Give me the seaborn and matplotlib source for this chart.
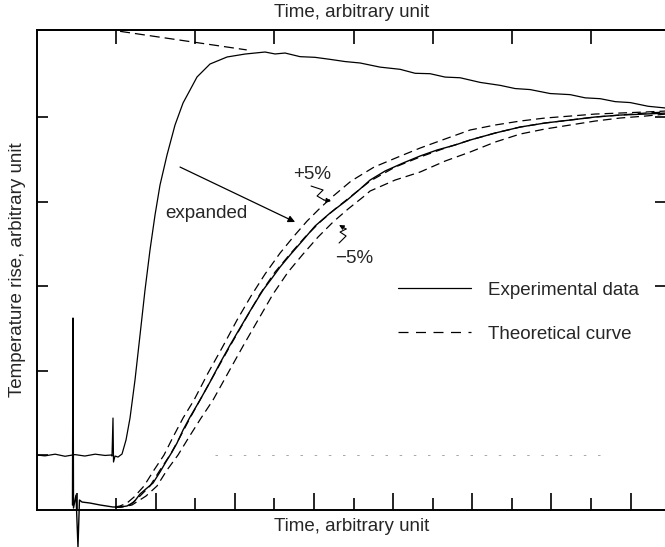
import matplotlib
matplotlib.use("Agg")
import matplotlib.pyplot as plt
import seaborn as sns
from matplotlib.lines import Line2D

# ---------------- data (arbitrary units) ----------------
# upper (unexpanded) experimental trace
upper_t = [0.00, 0.20, 0.46, 0.71, 0.96, 1.21, 1.47, 1.72, 1.87, 1.896, 1.921, 1.934,
           1.972, 2.048, 2.149, 2.250, 2.351, 2.477, 2.604, 2.730, 2.856, 2.983, 3.109,
           3.286, 3.488, 3.691, 3.868, 4.044, 4.373, 4.803, 5.258, 5.763, 6.016, 6.269,
           6.648, 7.027, 7.406, 7.785, 8.165, 8.670, 9.176, 9.555, 9.934, 10.313,
           10.693, 11.198, 11.704, 12.083, 12.462, 12.967, 13.473, 13.852, 14.232,
           14.611, 14.990, 15.445, 15.900]
upper_v = [0.00, -0.01, 0.01, -0.015, 0.005, -0.012, 0.01, -0.005, 0.0, -0.012, 0.438,
           -0.083, -0.012, -0.024, 0.012, 0.178, 0.438, 0.889, 1.422, 1.955, 2.429,
           2.844, 3.199, 3.555, 3.910, 4.171, 4.325, 4.479, 4.633, 4.716, 4.751, 4.775,
           4.752, 4.763, 4.720, 4.712, 4.688, 4.662, 4.645, 4.596, 4.570, 4.523, 4.518,
           4.478, 4.470, 4.415, 4.380, 4.342, 4.330, 4.283, 4.270, 4.232, 4.222, 4.187,
           4.176, 4.132, 4.111]

# heat-loss extrapolation (dashed, top)
extrap_t = [2.10, 5.30]
extrap_v = [5.02, 4.80]

# lower (expanded) experimental trace
low_t = [0.897, 0.910, 0.923, 0.986, 1.036, 1.074, 1.138, 1.340, 1.593, 1.921, 2.098,
         2.275, 2.452, 2.604, 2.781, 2.932, 3.109, 3.286, 3.413, 3.539, 3.691, 3.868,
         4.120, 4.373, 4.626, 4.879, 5.056, 5.384, 5.713, 5.940, 6.142, 6.395, 6.724,
         7.027, 7.406, 7.836, 8.165, 8.418, 8.797, 9.252, 9.682, 10.111, 10.566,
         10.945, 11.577, 12.209, 12.841, 13.473, 14.105, 14.737, 15.369, 15.900]
low_v = [-0.592, 1.623, -0.628, -0.474, -1.09, -0.533, -0.557, -0.569, -0.592, -0.616,
         -0.616, -0.604, -0.557, -0.462, -0.391, -0.332, -0.201, -0.059, 0.036, 0.142,
         0.296, 0.450, 0.652, 0.865, 1.090, 1.303, 1.445, 1.706, 1.955, 2.097, 2.227,
         2.370, 2.547, 2.713, 2.867, 3.021, 3.152, 3.258, 3.365, 3.460, 3.543, 3.614,
         3.673, 3.732, 3.815, 3.886, 3.934, 3.969, 4.005, 4.028, 4.040, 4.052]

# theoretical curves
theo_t = [1.972, 2.098, 2.351, 2.604, 2.856, 3.109, 3.362, 3.615, 3.868, 4.120, 4.499,
          4.879, 5.258, 5.637, 6.016, 6.395, 6.775, 7.154, 7.533, 7.912, 8.418, 9.050,
          9.681, 10.313, 10.945, 11.577, 12.209, 12.841, 13.473, 14.105, 14.737,
          15.369, 15.900]
theo_v = [-0.616, -0.616, -0.592, -0.486, -0.367, -0.178, 0.0, 0.213, 0.438, 0.652,
          0.972, 1.291, 1.600, 1.908, 2.168, 2.381, 2.583, 2.761, 2.915, 3.057, 3.246,
          3.412, 3.531, 3.637, 3.732, 3.815, 3.886, 3.934, 3.969, 4.005, 4.028, 4.052,
          4.064]

plus_t = [1.972, 2.098, 2.275, 2.452, 2.705, 2.958, 3.210, 3.438, 3.691, 3.969, 4.323,
          4.702, 5.056, 5.409, 5.763, 6.143, 6.496, 6.825, 7.154, 7.457, 7.937, 8.519,
          9.126, 9.681, 10.238, 10.945, 11.577, 12.209, 12.841, 13.473, 14.105,
          14.737, 15.369, 15.900]
plus_v = [-0.616, -0.604, -0.569, -0.498, -0.367, -0.178, 0.0, 0.213, 0.438, 0.652,
          0.972, 1.291, 1.600, 1.884, 2.144, 2.393, 2.595, 2.772, 2.926, 3.057, 3.246,
          3.412, 3.531, 3.637, 3.732, 3.851, 3.910, 3.957, 3.993, 4.016, 4.040, 4.052,
          4.064, 4.076]

minus_t = [1.972, 2.149, 2.401, 2.755, 3.033, 3.286, 3.564, 3.842, 4.146, 4.449, 4.828,
           5.207, 5.586, 5.966, 6.345, 6.724, 7.103, 7.482, 7.861, 8.241, 8.418, 9.050,
           9.681, 10.313, 10.945, 11.577, 12.209, 12.841, 13.473, 14.105, 14.737,
           15.369, 15.900]
minus_v = [-0.616, -0.616, -0.592, -0.486, -0.367, -0.178, 0.0, 0.213, 0.438, 0.652,
           0.972, 1.291, 1.600, 1.908, 2.168, 2.381, 2.583, 2.761, 2.915, 3.057, 3.128,
           3.258, 3.353, 3.483, 3.590, 3.708, 3.803, 3.863, 3.910, 3.957, 3.993, 4.016,
           4.040]

# faint baseline reference
base_t = [4.50, 14.43]
base_v = [0.0, 0.0]

legend_labels = ["Experimental data", "Theoretical curve"]

# ---------------- style ----------------
sns.set_theme(style="ticks")
plt.rcParams['font.family'] = ['Liberation Sans', 'DejaVu Sans']
FS = 13.5
plt.rcParams['font.size'] = FS

fig = plt.figure(figsize=(6.65, 5.47), dpi=100)
ax = fig.add_axes([0.0556, 0.0676, 0.9462, 0.8775])

DASH = (0, (7, 4))
kw = dict(ax=ax, sort=False, estimator=None, color='black', legend=False)

sns.lineplot(x=base_t, y=base_v, lw=0.6, linestyle=(0, (3, 14)), **{**kw, 'color': '0.6'})
sns.lineplot(x=upper_t, y=upper_v, lw=0.9, **kw)
sns.lineplot(x=extrap_t, y=extrap_v, lw=0.9, linestyle=(0, (8, 4)), **kw)
sns.lineplot(x=low_t, y=low_v, lw=1.0, clip_on=False, **kw)
sns.lineplot(x=theo_t, y=theo_v, lw=0.9, linestyle=DASH, **kw)
sns.lineplot(x=plus_t, y=plus_v, lw=0.9, linestyle=DASH, **kw)
sns.lineplot(x=minus_t, y=minus_v, lw=0.9, linestyle=DASH, **kw)

ax.set_xlim(0, 15.9)
ax.set_ylim(-0.6517, 5.0355)

# ticks
ax.set_xticks([1, 3, 5, 7, 9, 11, 13, 15])
ax.set_xticks([2, 4, 6, 8, 10, 12, 14], minor=True)
ax.set_yticks([0, 1, 2, 3, 4])
ax.tick_params(axis='x', which='major', direction='in', length=12, width=1.2,
               labelbottom=False, color='black')
ax.tick_params(axis='x', which='minor', direction='in', length=9, width=1.2,
               bottom=True, color='black')
ax.tick_params(axis='y', direction='in', length=8, width=1.2, labelleft=False,
               color='black')
for s in ax.spines.values():
    s.set_linewidth(1.4)
    s.set_color('black')

secx = ax.secondary_xaxis('top')
secx.set_xticks([2, 4, 6, 8, 10, 12, 14])
secx.set_xticklabels([])
secx.tick_params(direction='in', length=10, width=1.2, color='black')
secx.set_xlabel("Time, arbitrary unit", fontsize=FS, labelpad=6)

secy = ax.secondary_yaxis('right')
secy.set_yticks([2, 3, 4])
secy.set_yticklabels([])
secy.tick_params(direction='in', length=8, width=1.2, color='black')

ax.set_xlabel("Time, arbitrary unit", fontsize=FS, labelpad=2)
ax.set_ylabel("Temperature rise, arbitrary unit", fontsize=FS, labelpad=8)

# annotations
ax.annotate('', xy=(6.522, 2.761), xytext=(3.615, 3.412),
            arrowprops=dict(arrowstyle='-|>', color='black', lw=0.9,
                            mutation_scale=10, shrinkA=0, shrinkB=0))
ax.text(3.236, 2.867, "expanded", fontsize=FS, ha='left', va='center')
ax.text(6.471, 3.329, "+5%", fontsize=FS, ha='left', va='center')
ax.text(7.533, 2.334, "\u22125%", fontsize=FS, ha='left', va='center')

ax.plot([6.926, 7.230, 7.078, 7.255], [3.187, 3.140, 3.069, 3.021], color='black', lw=0.8)
ax.annotate('', xy=(7.432, 3.009), xytext=(7.255, 3.021),
            arrowprops=dict(arrowstyle='-|>', color='black', lw=0.8,
                            mutation_scale=7, shrinkA=0, shrinkB=0))
ax.plot([7.634, 7.811, 7.659, 7.811], [2.512, 2.595, 2.642, 2.678], color='black', lw=0.8)
ax.annotate('', xy=(7.634, 2.725), xytext=(7.811, 2.678),
            arrowprops=dict(arrowstyle='-|>', color='black', lw=0.8,
                            mutation_scale=7, shrinkA=0, shrinkB=0))

handles = [Line2D([], [], color='black', lw=0.9),
           Line2D([], [], color='black', lw=0.9, linestyle=(0, (8, 6)))]
ax.legend(handles=handles, labels=legend_labels, loc='upper left',
          bbox_to_anchor=(0.574, 0.476), frameon=False, handlelength=3.9,
          handletextpad=0.9, labelspacing=1.45, borderpad=0, borderaxespad=0,
          fontsize=FS)

fig.savefig("out.png", dpi=100, facecolor='white')
